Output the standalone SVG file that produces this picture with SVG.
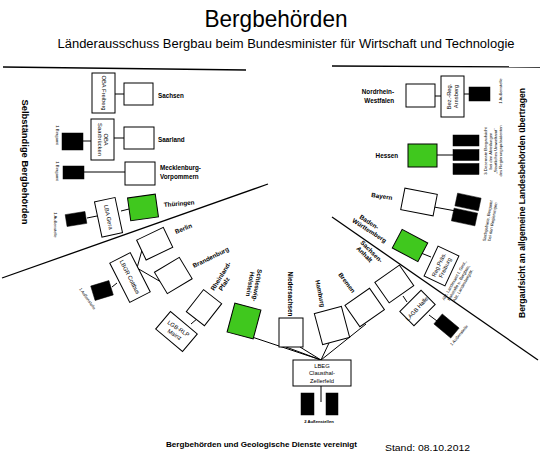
<svg xmlns="http://www.w3.org/2000/svg" width="543" height="455" viewBox="0 0 543 455">
<style>
.t{font-family:"Liberation Sans",Arial,sans-serif;fill:#000}
.lb{font-family:"Liberation Sans",Arial,sans-serif;font-weight:bold;font-size:6.3px;fill:#000}
.in{font-family:"Liberation Sans",Arial,sans-serif;font-size:5.8px;fill:#000}
.sm{font-family:"Liberation Sans",Arial,sans-serif;font-size:4.2px;fill:#000}
.b{fill:#fff;stroke:#000;stroke-width:1}
.g{fill:#40c81e;stroke:#000;stroke-width:1}
.k{fill:#000;stroke:#000;stroke-width:0.5}
.c{stroke:#000;stroke-width:1;fill:none}
.ln{stroke:#000;stroke-width:1.3;fill:none}
</style>
<rect width="543" height="455" fill="#fff"/>
<text class="t" x="276" y="27" font-size="24" text-anchor="middle" textLength="143" lengthAdjust="spacingAndGlyphs">Bergbehörden</text>
<text class="t" x="286" y="48" font-size="12.5" text-anchor="middle" textLength="457" lengthAdjust="spacingAndGlyphs">Länderausschuss Bergbau beim Bundesminister für Wirtschaft und Technologie</text>
<g id="dividers">
<path class="ln" d="M3,67 L246,70"/>
<path class="ln" d="M332,66 L540,67"/>
<path class="ln" d="M2,278 L268,184"/>
<path class="ln" d="M332,217 L538,360"/>
</g>
<text class="t" font-size="8.5" font-weight="bold" text-anchor="middle" transform="translate(22,162) rotate(90)" textLength="125" lengthAdjust="spacingAndGlyphs">Selbständige Bergbehörden</text>
<text class="t" font-size="8.5" font-weight="bold" text-anchor="middle" transform="translate(525,203) rotate(-90)" textLength="230" lengthAdjust="spacingAndGlyphs">Bergaufsicht an allgemeine Landesbehörden übertragen</text>
<g id="connectors">
<path class="c" d="M115,94 H124"/>
<path class="c" d="M83,141 H91 M114,138 H124"/>
<path class="c" d="M84,172 H125"/>
<path class="c" d="M87,218 L97,216 M121,211 L129,209"/>
<path class="c" d="M112,287 L117,283 M137,268 L142,250 M137,268 L161,282"/>
<path class="c" d="M191,324 L198,318"/>
<path class="c" d="M321,360 L252,337 M321,360 L286,347 M321,360 L300,347 M321,360 L329,343 M321,360 L366,324 M321,386 V402"/>
<path class="c" d="M403,296 L407,302 M429,315 L437,321"/>
<path class="c" d="M421,253 L431,257"/>
<path class="c" d="M434,207 L456,211"/>
<path class="c" d="M437,155 H453"/>
<path class="c" d="M435,96 H441 M464,94 H469"/>
</g>
<g id="oba-freiberg"><rect class="b" x="92" y="73" width="23" height="40"/><text class="in" text-anchor="middle" transform="translate(101.5,93) rotate(90)">OBA Freiberg</text></g>
<g id="sachsen"><rect class="b" x="124" y="83" width="29" height="22"/><text class="lb" x="158" y="98">Sachsen</text></g>
<g id="oba-saarbruecken"><rect class="b" x="91" y="119" width="23" height="41"/><text class="in" text-anchor="middle" transform="translate(104,139.5) rotate(90)"><tspan x="0" y="0">OBA</tspan><tspan x="0" y="6.5">Saarbrücken</tspan></text></g>
<g id="saarland"><rect class="b" x="124" y="127" width="30" height="22"/><text class="lb" x="158" y="142">Saarland</text></g>
<g id="bergamt-saar"><rect class="k" x="62" y="133" width="21" height="17"/><text class="sm" text-anchor="middle" transform="translate(56,135) rotate(90)">1 Bergamt</text></g>
<g id="mecklenburg"><rect class="b" x="125" y="162" width="30" height="23"/><text class="lb" x="160" y="170">Mecklenburg-</text><text class="lb" x="160" y="179">Vorpommern</text></g>
<g id="bergamt-meck"><rect class="k" x="63" y="166" width="21" height="13"/><text class="sm" text-anchor="middle" transform="translate(56,171) rotate(90)">1 Bergamt</text></g>
<g id="thueringen"><rect class="g" x="-14" y="-11.5" width="28" height="23" transform="translate(143,207.4) rotate(-8)"/><text class="lb" transform="translate(164,207) rotate(-5)">Thüringen</text></g>
<g id="lba-gera"><rect class="b" x="-10.5" y="-18" width="21" height="36" transform="translate(108.5,217.3) rotate(-12)"/><text class="in" text-anchor="middle" transform="translate(106.5,217.5) rotate(78)">LBA Gera</text></g>
<g id="aussen-gera"><rect class="k" x="-10" y="-6" width="20" height="12" transform="translate(76,219) rotate(-9)"/><text class="sm" text-anchor="middle" transform="translate(54,225) rotate(90)">1 Außenstelle</text></g>
<g id="berlin"><rect class="b" x="-14.75" y="-11" width="29.5" height="22" transform="translate(154.7,243.7) rotate(-25.5)"/><text class="lb" transform="translate(176,234) rotate(-22)">Berlin</text></g>
<g id="lbgr-cottbus"><rect class="b" x="-11.5" y="-22" width="23" height="44" transform="translate(130,277.5) rotate(-27)"/><text class="in" text-anchor="middle" transform="translate(128,278) rotate(63)">LBGR Cottbus</text></g>
<g id="brandenburg"><rect class="b" x="-14.5" y="-12.5" width="29" height="25" transform="translate(173.3,275.5) rotate(-31)"/><text class="lb" transform="translate(194,268) rotate(-26)">Brandenburg</text></g>
<g id="aussen-cottbus"><rect class="k" x="-9.5" y="-7.5" width="19" height="15" transform="translate(102,290.5) rotate(-17)"/><text class="sm" transform="translate(79,289) rotate(55)">1 Außenstelle</text></g>
<g id="rheinland-pfalz"><rect class="b" x="-14" y="-11.5" width="28" height="23" transform="translate(204,307.7) rotate(-52)"/><text class="lb" transform="translate(214,291) rotate(-58)"><tspan x="0" y="0">Rheinland-</tspan><tspan x="4" y="7">Pfalz</tspan></text></g>
<g id="lgb-rlp"><rect class="b" x="-17.5" y="-11.5" width="35" height="23" transform="translate(176.5,331.5) rotate(40)"/><text class="in" text-anchor="middle" transform="translate(176.5,331.5) rotate(33)"><tspan x="0" y="-1.5">LGB-RLP</tspan><tspan x="0" y="5.5">Mainz</tspan></text></g>
<g id="schleswig-holstein"><rect class="g" x="-13.5" y="-15" width="27" height="30" transform="translate(244,321) rotate(15)"/><text class="lb" text-anchor="middle" transform="translate(255,285) rotate(100)"><tspan x="0" y="0">Schleswig-</tspan><tspan x="0" y="7">Holstein</tspan></text></g>
<g id="niedersachsen"><rect class="b" x="279" y="318" width="24" height="29"/><text class="lb" text-anchor="middle" transform="translate(288,294) rotate(90)">Niedersachsen</text></g>
<g id="hamburg"><rect class="b" x="-14" y="-16" width="28" height="32" transform="translate(332,325.5) rotate(-15)"/><text class="lb" text-anchor="middle" transform="translate(318,294) rotate(79)">Hamburg</text></g>
<g id="bremen"><rect class="b" x="-15" y="-13" width="30" height="26" transform="translate(364.7,307.5) rotate(-35)"/><text class="lb" text-anchor="middle" transform="translate(345,284) rotate(53)">Bremen</text></g>
<g id="sachsen-anhalt"><rect class="b" x="-15" y="-12.5" width="30" height="25" transform="translate(394.3,284) rotate(-35)"/><text class="lb" text-anchor="middle" transform="translate(370,253) rotate(45)"><tspan x="0" y="0">Sachsen-</tspan><tspan x="-3" y="7">Anhalt</tspan></text></g>
<g id="lagb-halle"><rect class="b" x="-15" y="-10" width="30" height="20" transform="translate(417.5,308) rotate(-45)"/><text class="in" text-anchor="middle" transform="translate(418.5,310) rotate(-48)">LAGB Halle</text></g>
<g id="aussen-halle"><rect class="k" x="-11" y="-6.5" width="22" height="13" transform="translate(446.5,326) rotate(40)"/><text class="sm" transform="translate(452,346) rotate(-50)">1 Außenstelle</text></g>
<g id="lbeg"><rect class="b" x="293" y="360" width="58" height="26"/><text class="in" text-anchor="middle" x="322" y="367.5">LBEG</text><text class="in" text-anchor="middle" x="322" y="375">Clausthal-</text><text class="in" text-anchor="middle" x="322" y="382.5">Zellerfeld</text></g>
<g id="aussen-lbeg"><rect class="k" x="301" y="393" width="13" height="22"/><rect class="k" x="326" y="393" width="12" height="22"/><text class="sm" font-weight="bold" text-anchor="middle" x="319" y="423">2 Außenstellen</text></g>
<g id="baden-wuerttemberg"><rect class="g" x="-14.5" y="-10.5" width="29" height="21" transform="translate(410,245.5) rotate(28)"/><text class="lb" transform="translate(359,218) rotate(33)"><tspan x="0" y="0">Baden-</tspan><tspan x="-4" y="7">Württemberg</tspan></text></g>
<g id="rp-freiburg"><rect class="b" x="-16.5" y="-11.5" width="33" height="23" transform="translate(441.5,266) rotate(-65)"/><text class="in" text-anchor="middle" transform="translate(441.5,266) rotate(-65)"><tspan x="0" y="-1">Reg.Präs.</tspan><tspan x="0" y="6">Freiburg</tspan></text><text class="sm" text-anchor="middle" transform="translate(459,283) rotate(-60)"><tspan x="0" y="-4">Abt. Landesamt f. Geol.,</tspan><tspan x="0" y="1">Rohstoffe u. Bergbau,</tspan><tspan x="0" y="6">Abt. Landesbergdir.</tspan></text></g>
<g id="bayern"><rect class="b" x="-16.5" y="-11" width="33" height="22" transform="translate(419,202) rotate(11)"/><text class="lb" transform="translate(371,197) rotate(8)">Bayern</text></g>
<g id="bergamt-bayern"><rect class="k" x="-12" y="-6.5" width="24" height="13" transform="translate(468,202) rotate(12)"/><rect class="k" x="-12" y="-6.5" width="24" height="13" transform="translate(464.5,217) rotate(12)"/><text class="sm" text-anchor="middle" transform="translate(489,221) rotate(-80)"><tspan x="0" y="0">Sachgebiete, Bergamt</tspan><tspan x="0" y="5">bei den Regierungen</tspan></text></g>
<g id="hessen"><rect class="g" x="408" y="144" width="29" height="23"/><text class="lb" text-anchor="end" x="398" y="158">Hessen</text></g>
<g id="dezernate-hessen"><rect class="k" x="453" y="135" width="26" height="11"/><rect class="k" x="453" y="149.5" width="26" height="11"/><rect class="k" x="453" y="163.5" width="26" height="11"/><text class="sm" text-anchor="middle" transform="translate(487,151) rotate(-90)"><tspan x="0" y="0">3 Dezernate Bergaufsicht</tspan><tspan x="0" y="5">bei den Abteilungen</tspan><tspan x="0" y="10">„Staatliches Umweltamt"</tspan><tspan x="0" y="15">des Regierungspräsidenten</tspan></text></g>
<g id="nrw"><rect class="b" x="406" y="84" width="29" height="23"/><text class="lb" text-anchor="end" x="394" y="94">Nordrhein-</text><text class="lb" text-anchor="end" x="394" y="103">Westfalen</text></g>
<g id="bezreg-arnsberg"><rect class="b" x="441" y="76" width="23" height="41"/><text class="in" text-anchor="middle" transform="translate(451,96.5) rotate(-90)"><tspan x="0" y="0">Bez.-Reg.</tspan><tspan x="0" y="6.5">Arnsberg</tspan></text></g>
<g id="aussen-nrw"><rect class="k" x="469" y="87" width="21" height="14"/><text class="sm" text-anchor="middle" transform="translate(502,91) rotate(-90)">1 Außenstelle</text></g>
<text class="t" font-size="7.5" font-weight="bold" x="166" y="447" textLength="191" lengthAdjust="spacingAndGlyphs">Bergbehörden und Geologische Dienste vereinigt</text>
<text class="t" font-size="9.5" x="385" y="451" textLength="85" lengthAdjust="spacingAndGlyphs">Stand: 08.10.2012</text>
</svg>
